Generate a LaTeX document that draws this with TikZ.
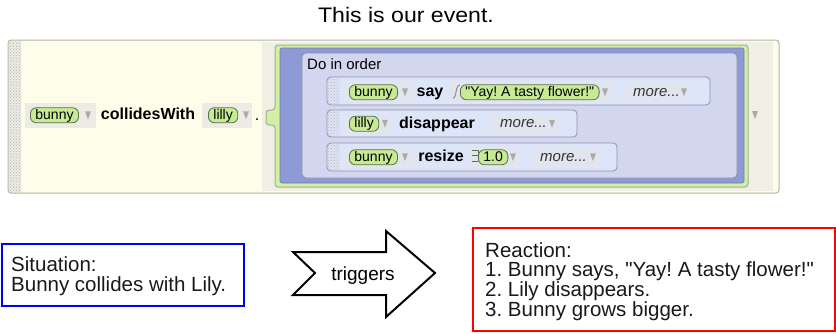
\documentclass[tikz,border=0pt]{standalone}
\usepackage{fontspec}
\setmainfont{Liberation Sans}
\usetikzlibrary{patterns}
\frenchspacing
\definecolor{panelY}{HTML}{FDFDE9}
\definecolor{panelB}{HTML}{B4B4A8}
\definecolor{stripG}{HTML}{EFEFE4}
\definecolor{grnF}{HTML}{D2F0A4}
\definecolor{grnB}{HTML}{A3AE92}
\definecolor{purp}{HTML}{8E9AD6}
\definecolor{lav}{HTML}{D3D6EF}
\definecolor{lavB}{HTML}{8C8FA6}
\definecolor{rowF}{HTML}{DDE5F8}
\definecolor{rowB}{HTML}{8E93A6}
\definecolor{chipY}{HTML}{ECECE4}
\definecolor{chipB}{HTML}{E3E5EE}
\definecolor{pillF}{HTML}{C6EB94}
\definecolor{pillB}{HTML}{5F6E4E}
\definecolor{triC}{HTML}{ABABAB}
\newcommand\dtri[2]{\fill[triC] (#1-3,#2-4) -- (#1+3,#2-4) -- (#1,#2+4) -- cycle;}
\newcommand\dq{\textquotedbl}
\begin{document}
\begin{tikzpicture}[x=1pt,y=-1pt,
  pill/.style={draw=pillB, fill=pillF, line width=0.8, rounded corners=6, inner xsep=5, inner ysep=0,
    minimum height=15, text height=10.5, text depth=3, font=\fontsize{14}{16}\selectfont, anchor=base west},
  lbl/.style={font=\fontsize{16}{18}\selectfont\bfseries, inner sep=0, anchor=base},
  moretxt/.style={font=\fontsize{15}{17}\selectfont\itshape, text=black!80, inner sep=0, anchor=base west},
  rowbox/.style={draw=rowB, fill=rowF, line width=0.8, rounded corners=4},
  dotsx/.style={pattern=crosshatch dots, pattern color=gray!60},
  txt/.style={font=\fontsize{20.5}{22}\selectfont, inner sep=0, anchor=base west, text=black!90}
]
\useasboundingbox (0,0) rectangle (836,333);

% title
\node[font=\fontsize{21}{24}\selectfont, anchor=base, inner sep=0] (title) at (406,22) {\scalebox{1.1}[1]{This is our event.}};

% event panel
\draw[fill=panelY, draw=panelB, line width=1, rounded corners=3] (8,40) rectangle (779,193);
\fill[chipY] (9,41) rectangle (21,192);
\path[dotsx] (9,41) rectangle (21,192);
\fill[stripG] (262,42) rectangle (773,191);
\dtri{755}{115}

% top-level chips
\fill[chipY] (25,103) rectangle (96,128);
\node[pill] (pbunny0) at (30,119) {bunny};
\dtri{88}{115.25}
\node[lbl] (collides) at (148,119.5) {collidesWith};
\fill[chipY] (202,103) rectangle (252,128);
\node[pill] (plilly0) at (208,119) {lilly};
\dtri{246}{115.25}
\node[font=\fontsize{16}{18}\selectfont, inner sep=0, anchor=base] (dot) at (257,120) {.};

% green block with tab
\draw[fill=grnF, draw=grnB, line width=1, rounded corners=3]
  (275,45) -- (748,45) -- (748,187) -- (275,187) -- (275,125) -- (266,125) -- (266,110) -- (275,110) -- cycle;
\draw[fill=purp, draw=purp!80!black, line width=0.6, rounded corners=2] (280,48) rectangle (744,183);
\draw[fill=lav, draw=lavB, line width=0.8, rounded corners=4] (302,53) rectangle (737,178);
\node[font=\fontsize{15}{17}\selectfont, anchor=base west, inner sep=0] (doinorder) at (307,69) {Do in order};

% row 1: say
\draw[rowbox] (327,77) rectangle (710,105);
\path[dotsx] (328,78) rectangle (340,104);
\fill[chipB] (344,82) rectangle (413,101);
\node[pill] (pbunny1) at (349,96) {bunny};
\dtri{405}{92.25}
\node[lbl] (say) at (430,96.5) {say};
\fill[chipB] (450,82) rectangle (612,101);
\draw[pillB!80, line width=0.9] (453,98) .. controls (457,98) and (455,85) .. (460,85);
\node[pill] (pyay) at (460,96) {\dq Yay! A tasty flower!\dq};
\dtri{605}{92.25}
\fill[chipB] (626,83) rectangle (690,100);
\node[moretxt] (more1) at (633,96) {more...};
\dtri{684}{92.25}

% row 2: disappear
\draw[rowbox] (327,110) rectangle (577,137);
\path[dotsx] (328,111) rectangle (340,136);
\fill[chipB] (344,115) rectangle (392,133);
\node[pill] (plilly2) at (349,127.5) {lilly};
\dtri{385}{123.75}
\node[lbl] (disappear) at (437,128) {disappear};
\fill[chipB] (492,115) rectangle (558,133);
\node[moretxt] (more2) at (500,127.5) {more...};
\dtri{552}{123.75}

% row 3: resize
\draw[rowbox] (327,143) rectangle (617,171);
\path[dotsx] (328,144) rectangle (340,170);
\fill[chipB] (344,148) rectangle (413,167);
\node[pill] (pbunny3) at (349,161) {bunny};
\dtri{405}{157.25}
\node[lbl] (resize) at (441,161.5) {resize};
\fill[chipB] (469,148) rectangle (520,167);
\draw[pillB, line width=0.9] (472,150) -- (478,150) (472,155.5) -- (478,155.5) (472,161) -- (478,161) (478,150) -- (478,161);
\node[pill] (pnum) at (478,161) {1.0};
\dtri{513}{157.25}
\fill[chipB] (533,148) rectangle (599,167);
\node[moretxt] (more3) at (540,161) {more...};
\dtri{593}{157.25}

% bottom: situation
\node[draw=blue, line width=2, minimum width=242, minimum height=62, anchor=north west, inner sep=0] (sitbox) at (1,243) {};
\node[txt] (sit1) at (11,271) {Situation:};
\node[txt] (sit2) at (11,291) {Bunny collides with Lily.};

% arrow
\draw[line width=2, line join=miter, fill=white]
  (293,252) -- (386,252) -- (386,231) -- (435,273) -- (386,317) -- (386,295) -- (293,295) -- (315,273) -- cycle;
\node[font=\fontsize{19}{21}\selectfont, anchor=base, inner sep=0] (trig) at (363,280) {triggers};

% reaction
\node[draw=red, line width=2, minimum width=362, minimum height=103, anchor=north west, inner sep=0] (reactbox) at (472,227) {};
\node[txt] (r0) at (485,257) {Reaction:};
\node[txt] (r1) at (485,276.7) {1. Bunny says, \dq Yay! A tasty flower!\dq};
\node[txt] (r2) at (485,296.4) {2. Lily disappears.};
\node[txt] (r3) at (485,316) {3. Bunny grows bigger.};
\end{tikzpicture}
\end{document}
